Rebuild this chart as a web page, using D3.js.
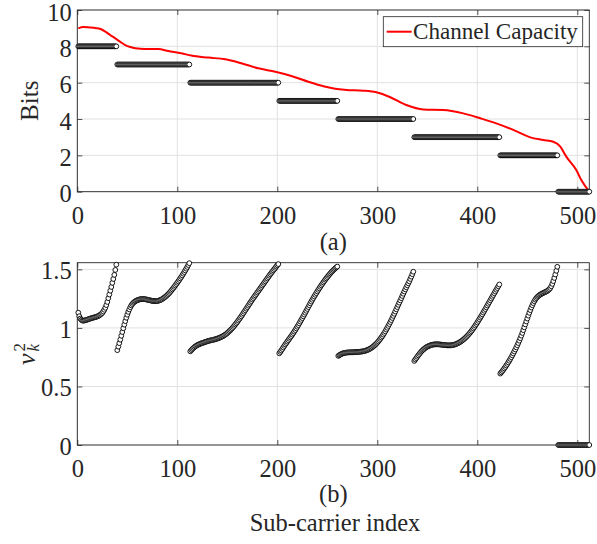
<!DOCTYPE html>
<html>
<head>
<meta charset="utf-8">
<script src="https://cdn.jsdelivr.net/npm/d3@7"></script>
<style>
  html, body { margin: 0; padding: 0; background: #ffffff; }
  svg { display: block; }
  svg text { font-family: "Liberation Serif", "Times New Roman", serif !important; fill: #262626; }
</style>
</head>
<body>
<svg id="chart" width="597" height="544"></svg>
<script>
// ---------------- DATA ----------------
// Bits per sub-carrier, as runs: level and last sub-carrier index of each run
const bitLevels = [8, 7, 6, 5, 4, 3, 2, 0];
const bitRunLast = [39, 112, 201, 260, 336, 422, 480, 512];

// Channel capacity curve (sub-carrier index, bits)
const capIdx = [1, 6, 12, 19, 24, 28, 33, 38, 43, 48, 53, 58, 68, 81, 91, 104, 114, 131, 148, 164,
  181, 198, 214, 231, 248, 258, 269, 286, 299, 313, 329, 346, 366, 386, 403, 419, 436, 453, 466,
  476, 483, 489, 499, 504, 512];
const capVal = [8.99, 9.06, 9.04, 9.00, 8.94, 8.81, 8.62, 8.44, 8.25, 8.07, 7.96, 7.89, 7.85, 7.85,
  7.74, 7.62, 7.49, 7.38, 7.29, 7.07, 6.79, 6.60, 6.37, 6.05, 5.78, 5.66, 5.60, 5.56, 5.47, 5.20,
  4.77, 4.53, 4.50, 4.31, 4.04, 3.76, 3.40, 2.99, 2.85, 2.75, 2.48, 1.93, 1.19, 0.64, 0.0];

// nu_k^2 for sub-carriers k = 1..512
const nu2Values = [
  // k = 1..39
  1.130, 1.100, 1.080, 1.070, 1.063, 1.062, 1.063, 1.066, 1.068, 1.071, 1.074, 1.077, 1.080, 1.083,
  1.086, 1.088, 1.090, 1.092, 1.095, 1.098, 1.102, 1.107, 1.113, 1.120, 1.128, 1.140, 1.155, 1.172,
  1.195, 1.222, 1.254, 1.285, 1.318, 1.350, 1.385, 1.418, 1.453, 1.495, 1.540,
  // k = 40..112
  0.810, 0.840, 0.870, 0.900, 0.933, 0.965, 0.997, 1.028, 1.058, 1.087, 1.113, 1.137, 1.158, 1.177,
  1.192, 1.204, 1.214, 1.222, 1.228, 1.233, 1.237, 1.240, 1.243, 1.245, 1.246, 1.247, 1.247, 1.246,
  1.245, 1.243, 1.241, 1.239, 1.237, 1.235, 1.233, 1.231, 1.230, 1.229, 1.229, 1.229, 1.230, 1.232,
  1.235, 1.238, 1.242, 1.247, 1.253, 1.259, 1.266, 1.273, 1.281, 1.289, 1.298, 1.308, 1.318, 1.329,
  1.340, 1.351, 1.362, 1.374, 1.386, 1.398, 1.410, 1.423, 1.436, 1.449, 1.463, 1.477, 1.491, 1.506,
  1.521, 1.537, 1.553,
  // k = 113..201
  0.800, 0.810, 0.819, 0.827, 0.835, 0.842, 0.848, 0.853, 0.857, 0.861, 0.865, 0.868, 0.871, 0.874,
  0.877, 0.880, 0.883, 0.886, 0.889, 0.891, 0.893, 0.895, 0.897, 0.899, 0.901, 0.903, 0.906, 0.909,
  0.912, 0.915, 0.919, 0.923, 0.927, 0.932, 0.937, 0.943, 0.949, 0.956, 0.964, 0.972, 0.980, 0.989,
  0.998, 1.008, 1.018, 1.029, 1.040, 1.051, 1.063, 1.075, 1.087, 1.099, 1.112, 1.125, 1.138, 1.151,
  1.164, 1.177, 1.190, 1.203, 1.216, 1.229, 1.242, 1.254, 1.266, 1.278, 1.290, 1.302, 1.314, 1.326,
  1.338, 1.350, 1.362, 1.374, 1.386, 1.398, 1.410, 1.422, 1.434, 1.446, 1.458, 1.469, 1.480, 1.491,
  1.502, 1.513, 1.524, 1.535, 1.545,
  // k = 202..260
  0.783, 0.795, 0.807, 0.820, 0.833, 0.846, 0.859, 0.871, 0.883, 0.895, 0.907, 0.919, 0.931, 0.943,
  0.956, 0.969, 0.982, 0.996, 1.010, 1.024, 1.039, 1.054, 1.069, 1.084, 1.099, 1.114, 1.130, 1.146,
  1.162, 1.178, 1.194, 1.210, 1.225, 1.240, 1.255, 1.269, 1.283, 1.297, 1.311, 1.325, 1.338, 1.351,
  1.364, 1.376, 1.388, 1.400, 1.412, 1.423, 1.434, 1.445, 1.455, 1.465, 1.475, 1.484, 1.493, 1.501,
  1.509, 1.517, 1.524,
  // k = 261..336
  0.761, 0.767, 0.772, 0.777, 0.781, 0.784, 0.786, 0.788, 0.789, 0.790, 0.791, 0.791, 0.792, 0.792,
  0.792, 0.792, 0.793, 0.793, 0.794, 0.794, 0.795, 0.796, 0.797, 0.798, 0.799, 0.801, 0.803, 0.805,
  0.808, 0.811, 0.815, 0.819, 0.824, 0.829, 0.835, 0.842, 0.849, 0.857, 0.865, 0.874, 0.884, 0.895,
  0.906, 0.918, 0.930, 0.943, 0.957, 0.971, 0.986, 1.001, 1.017, 1.033, 1.050, 1.067, 1.085, 1.103,
  1.121, 1.140, 1.159, 1.178, 1.197, 1.216, 1.235, 1.254, 1.273, 1.292, 1.311, 1.329, 1.347, 1.364,
  1.381, 1.398, 1.418, 1.438, 1.459, 1.480,
  // k = 337..422
  0.718, 0.730, 0.742, 0.754, 0.766, 0.777, 0.788, 0.798, 0.807, 0.815, 0.822, 0.829, 0.835, 0.840,
  0.844, 0.848, 0.851, 0.854, 0.856, 0.858, 0.859, 0.860, 0.860, 0.860, 0.860, 0.859, 0.858, 0.857,
  0.856, 0.855, 0.854, 0.853, 0.852, 0.851, 0.851, 0.851, 0.851, 0.852, 0.853, 0.855, 0.857, 0.860,
  0.863, 0.867, 0.871, 0.876, 0.881, 0.887, 0.893, 0.900, 0.907, 0.915, 0.923, 0.932, 0.941, 0.951,
  0.961, 0.972, 0.983, 0.995, 1.007, 1.020, 1.033, 1.046, 1.060, 1.074, 1.088, 1.102, 1.116, 1.131,
  1.146, 1.161, 1.176, 1.191, 1.206, 1.221, 1.236, 1.251, 1.266, 1.281, 1.296, 1.311, 1.326, 1.341,
  1.356, 1.371,
  // k = 423..480
  0.610, 0.620, 0.631, 0.642, 0.654, 0.666, 0.679, 0.692, 0.706, 0.720, 0.735, 0.750, 0.766, 0.782,
  0.799, 0.816, 0.834, 0.852, 0.871, 0.891, 0.912, 0.934, 0.957, 0.981, 1.005, 1.030, 1.055, 1.080,
  1.105, 1.129, 1.152, 1.174, 1.194, 1.212, 1.228, 1.242, 1.254, 1.264, 1.272, 1.279, 1.285, 1.290,
  1.295, 1.299, 1.303, 1.307, 1.311, 1.316, 1.322, 1.330, 1.341, 1.356, 1.376, 1.400, 1.427, 1.456,
  1.488, 1.522,
  // k = 481..512
  0, 0, 0, 0, 0, 0, 0, 0, 0, 0, 0, 0, 0, 0, 0, 0, 0, 0, 0, 0, 0, 0, 0, 0, 0, 0, 0, 0, 0, 0, 0, 0
];

const xTicks = [0, 100, 200, 300, 400, 500];
const bitsTicks = [0, 2, 4, 6, 8, 10];
const nuTicks = [0, 0.5, 1, 1.5];
const legendLabel = "Channel Capacity";

// ---------------- BUILD ----------------
const bitsPoints = [];
{
  let k = 1;
  bitLevels.forEach((lvl, i) => {
    for (; k <= bitRunLast[i]; k++) bitsPoints.push({ k: k, v: lvl });
  });
}
const capPoints = capIdx.map((k, i) => ({ k: k, v: capVal[i] }));
const nuPoints = nu2Values.map((v, i) => ({ k: i + 1, v: v }));

const SERIF = '"Liberation Serif", "Times New Roman", serif';
const svg = d3.select("#chart");
const FONT = 24.5;
const AX = "#262626";
const GRID = "#e1e1e1";

const x = d3.scaleLinear().domain([0, 512]).range([77.3, 589.3]);
const yTop = d3.scaleLinear().domain([0, 10]).range([191.7, 10]);
const yBot = d3.scaleLinear().domain([0, 1.557]).range([445, 262.7]);

function drawGrid(yScale, yTicksArr) {
  const g = svg.append("g");
  const [x0, x1] = x.range();
  const [yb, yt] = yScale.range();
  g.append("g").selectAll("line").data(xTicks).join("line")
    .attr("x1", d => x(d)).attr("x2", d => x(d)).attr("y1", yt).attr("y2", yb)
    .attr("stroke", GRID).attr("stroke-width", 1);
  g.append("g").selectAll("line").data(yTicksArr).join("line")
    .attr("x1", x0).attr("x2", x1).attr("y1", d => yScale(d)).attr("y2", d => yScale(d))
    .attr("stroke", GRID).attr("stroke-width", 1);
  return g;
}

function drawFrame(yScale, yTicksArr, yFmt, xLabelBaseline, yLabelShift) {
  const g = svg.append("g");
  const [x0, x1] = x.range();
  const [yb, yt] = yScale.range();
  const bottom = g.append("g").attr("transform", `translate(0,${yb})`)
    .call(d3.axisBottom(x).tickValues(xTicks).tickSize(-5).tickSizeOuter(0).tickPadding(0));
  bottom.selectAll("text").attr("y", xLabelBaseline - yb).attr("dy", null);
  const left = g.append("g").attr("transform", `translate(${x0},0)`)
    .call(d3.axisLeft(yScale).tickValues(yTicksArr).tickFormat(yFmt).tickSize(-5).tickSizeOuter(0).tickPadding(5.6));
  left.selectAll("text").attr("dy", yLabelShift);
  g.append("g").attr("transform", `translate(0,${yt})`)
    .call(d3.axisTop(x).tickValues(xTicks).tickSize(-5).tickSizeOuter(0).tickFormat(""));
  g.append("g").attr("transform", `translate(${x1},0)`)
    .call(d3.axisRight(yScale).tickValues(yTicksArr).tickSize(-5).tickSizeOuter(0).tickFormat(""));
  g.selectAll("g").attr("font-family", SERIF).attr("font-size", FONT);
  g.selectAll("text").style("font-family", SERIF).style("font-size", FONT + "px").attr("fill", AX);
  g.selectAll(".domain").remove();
  g.selectAll(".tick line").attr("stroke", AX).attr("stroke-width", 0.8);
  g.append("rect").attr("x", x0).attr("y", yt).attr("width", x1 - x0).attr("height", yb - yt)
    .attr("fill", "none").attr("stroke", AX).attr("stroke-width", 0.9);
  return g;
}

// ---------- Top panel ----------
drawGrid(yTop, bitsTicks);
drawFrame(yTop, bitsTicks, d3.format("d"), 224, 10);

svg.append("path").datum(capPoints)
  .attr("fill", "none").attr("stroke", "#ff0000").attr("stroke-width", 2)
  .attr("stroke-linejoin", "round")
  .attr("d", d3.line().x(d => x(d.k)).y(d => yTop(d.v)).curve(d3.curveMonotoneX));

svg.append("g").selectAll("circle").data(bitsPoints).join("circle")
  .attr("cx", d => x(d.k)).attr("cy", d => yTop(d.v)).attr("r", 2.4)
  .attr("fill", "#ffffff").attr("stroke", "#000000").attr("stroke-width", 0.9);

// legend
{
  const lg = svg.append("g");
  lg.append("rect").attr("x", 383.3).attr("y", 16.7).attr("width", 199.4).attr("height", 30)
    .attr("fill", "#ffffff").attr("stroke", AX).attr("stroke-width", 0.8);
  lg.append("line").attr("x1", 386.7).attr("x2", 411.7).attr("y1", 31.7).attr("y2", 31.7)
    .attr("stroke", "#ff0000").attr("stroke-width", 2);
  const lt = lg.append("text").attr("x", 413).attr("y", 39.3).style("font-size", "22px").text(legendLabel);
  const w = lt.node().getComputedTextLength();
  if (w > 0) lt.style("font-size", (22 * 165 / w).toFixed(2) + "px");
}

// axis labels
svg.append("text").attr("transform", "translate(38,100.8) rotate(-90)")
  .attr("text-anchor", "middle").style("font-size", "25px").text("Bits");
svg.append("text").attr("x", 333.3).attr("y", 250).attr("text-anchor", "middle")
  .style("font-size", FONT + "px").text("(a)");

// ---------- Bottom panel ----------
drawGrid(yBot, nuTicks);
drawFrame(yBot, nuTicks, d3.format(""), 476.5, 9.5);

svg.append("g").selectAll("circle").data(nuPoints).join("circle")
  .attr("cx", d => x(d.k)).attr("cy", d => yBot(d.v)).attr("r", 2.4)
  .attr("fill", "#ffffff").attr("stroke", "#000000").attr("stroke-width", 0.9);

{
  const yl = svg.append("g").attr("transform", "translate(35,354) rotate(-90)");
  yl.append("text").attr("x", -11).attr("y", 0).style("font-size", "26px")
    .style("font-style", "italic").text("ν");
  yl.append("text").attr("x", 2.5).attr("y", 3.5).style("font-size", "17px")
    .style("font-style", "italic").text("k");
  yl.append("text").attr("x", 2.5).attr("y", -10).style("font-size", "17px").text("2");
}
svg.append("text").attr("x", 333.3).attr("y", 502).attr("text-anchor", "middle")
  .style("font-size", FONT + "px").text("(b)");
svg.append("text").attr("x", 335).attr("y", 531).attr("text-anchor", "middle")
  .style("font-size", FONT + "px").text("Sub-carrier index");
</script>
</body>
</html>
